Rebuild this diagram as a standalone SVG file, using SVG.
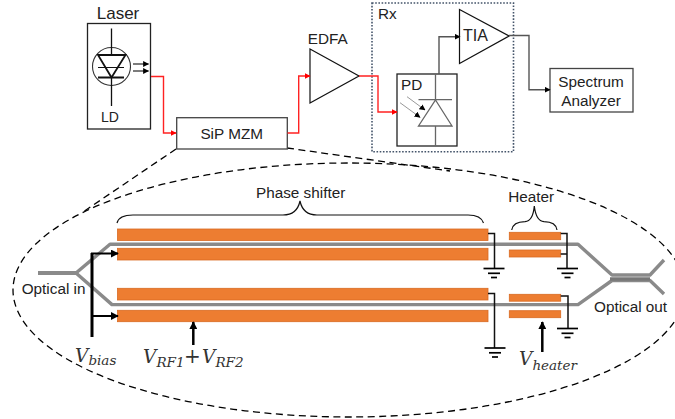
<svg xmlns="http://www.w3.org/2000/svg" width="675" height="419" viewBox="0 0 675 419">
<style>
text{font-family:"Liberation Sans",Arial,sans-serif;font-size:15.3px;fill:#222}
.m{font-family:"DejaVu Serif",serif;font-style:italic;fill:#333}
.v{font-size:18.5px}.s{font-size:13.5px}
.box{fill:#fff;stroke:#222;stroke-width:1.3}
.tri{fill:#fff;stroke:#111;stroke-width:1.2}
.red{fill:none;stroke:#f22;stroke-width:1.4}
.gr{fill:none;stroke:#555;stroke-width:1.4}
.wg{fill:none;stroke:#8a8a8a;stroke-width:3.4;stroke-linejoin:round}
.bar{fill:#ed7d31;stroke:#d96a22;stroke-width:.8}
.blk{fill:none;stroke:#111;stroke-width:1.5}
.th{fill:none;stroke:#000;stroke-width:2.5}
.dash{fill:none;stroke:#000;stroke-width:1.3;stroke-dasharray:7 4.5}
.gnd{stroke:#000;fill:none}
</style>
<defs>
<marker id="ar" viewBox="0 0 10 10" refX="9" refY="5" markerWidth="6" markerHeight="6" markerUnits="userSpaceOnUse" orient="auto"><path d="M0 0L10 5L0 10z" fill="#f00"/></marker>
<marker id="ak" viewBox="0 0 10 10" refX="9" refY="5" markerWidth="6" markerHeight="6" markerUnits="userSpaceOnUse" orient="auto"><path d="M0 0L10 5L0 10z" fill="#000"/></marker>
<marker id="ab" viewBox="0 0 10 10" refX="9" refY="5" markerWidth="8" markerHeight="8" markerUnits="userSpaceOnUse" orient="auto"><path d="M0 0L10 5L0 10z" fill="#000"/></marker>
<g id="g1" class="gnd"><path d="M-10.5 0H10.5" stroke-width="1.7"/><path d="M-6 4.8H6" stroke-width="1.7"/><path d="M-3 9H3" stroke-width="1.7"/></g>
</defs>

<g id="outline">
<ellipse class="dash" cx="349" cy="290" rx="336" ry="127"/>
<path class="dash" d="M176 149L83 212"/>
<path class="dash" d="M287 148L450 171"/>
</g>

<g id="laser">
<text x="118" y="19" text-anchor="middle" style="font-size:17px">Laser</text>
<rect class="box" x="87.5" y="23.5" width="63" height="105.5"/>
<circle cx="111.5" cy="66.5" r="19" fill="none" stroke="#333" stroke-width="1.1"/>
<path d="M111.5 28.5V54.5M111.5 77.5V106" fill="none" stroke="#111" stroke-width="1.3"/>
<path d="M98 55H125.5L111.5 77.5z" fill="none" stroke="#111" stroke-width="1.8"/>
<path d="M98 67.5H124" fill="none" stroke="#111" stroke-width="1"/>
<path d="M98 77.5H124" fill="none" stroke="#111" stroke-width="2"/>
<path d="M133 64H148.5" fill="none" stroke="#111" stroke-width="1.1" marker-end="url(#ak)"/>
<path d="M133 71H148.5" fill="none" stroke="#111" stroke-width="1.1" marker-end="url(#ak)"/>
<text x="110" y="122" text-anchor="middle" style="font-size:14px">LD</text>
</g>

<g id="mzm">
<rect class="box" style="stroke:#444" x="176.7" y="117.7" width="110.6" height="31.3"/>
<text x="231.7" y="139" text-anchor="middle">SiP MZM</text>
</g>

<g id="edfa">
<path class="tri" d="M310 49L359 76L310 103z"/>
<text x="327.7" y="44" text-anchor="middle">EDFA</text>
</g>

<g id="rx">
<rect x="372" y="3" width="141.5" height="148.7" fill="none" stroke="#44546a" stroke-width="1.6" stroke-dasharray="1.6 1.6"/>
<text x="378" y="19">Rx</text>
</g>

<g id="pd">
<rect class="box" x="397" y="74" width="60" height="72"/>
<text x="401" y="90">PD</text>
<path d="M435.5 74V100M435.5 126V146M418.5 99.7H452M435.5 100L452 126H418.5z" fill="none" stroke="#666" stroke-width="1.3"/>
<path d="M407 96.7L425 110" fill="none" stroke="#999" stroke-width="1" marker-end="url(#ak)"/>
<path d="M400 102.7L420 117.3" fill="none" stroke="#999" stroke-width="1" marker-end="url(#ak)"/>
</g>

<g id="tia">
<path class="tri" d="M459.5 9.5L509 36L459.5 63.5z"/>
<text x="463" y="41" style="font-size:16px">TIA</text>
</g>

<g id="analyzer">
<rect class="box" style="stroke:#444" x="550" y="68.5" width="83" height="43.5"/>
<text x="591" y="87" text-anchor="middle">Spectrum</text>
<text x="591" y="106" text-anchor="middle">Analyzer</text>
</g>

<g id="connectors">
<path class="red" d="M151 76.5H163.5V133H176" marker-end="url(#ar)"/>
<path class="red" d="M287.5 133H298.7V76H310" marker-end="url(#ar)"/>
<path class="red" d="M359 76H378V112H397" marker-end="url(#ar)"/>
<path class="gr" d="M439 74V36.7H460" marker-end="url(#ak)"/>
<path class="gr" d="M509 35.5H529V89.7H550" marker-end="url(#ak)"/>
</g>

<g id="phase-shifter">
<rect class="bar" x="117.5" y="229" width="370.5" height="11.5"/>
<rect class="bar" x="117.5" y="248.3" width="370.5" height="11.7"/>
<rect class="bar" x="117.5" y="288.3" width="370.5" height="11.7"/>
<rect class="bar" x="117.5" y="310.3" width="370.5" height="11.4"/>
<path d="M117 223Q119 215 133 215H283Q297 215 300 201Q303 215 317 215H468Q481 215 483.5 223" fill="none" stroke="#111" stroke-width="1.2"/>
<text x="256" y="197.5">Phase shifter</text>
</g>

<g id="heater">
<rect class="bar" x="509.3" y="232.3" width="51.4" height="7.4"/>
<rect class="bar" x="509.3" y="250" width="51.4" height="7"/>
<rect class="bar" x="509.3" y="294.3" width="51.4" height="6.9"/>
<rect class="bar" x="509.3" y="310.7" width="51.4" height="7"/>
<path d="M511.7 230Q513 222 525 221.7Q533 221 534.3 206Q536 221 544 221.7Q556 222 557 230" fill="none" stroke="#111" stroke-width="1.2"/>
<text x="508.3" y="202">Heater</text>
</g>

<g id="waveguide">
<path class="wg" style="stroke-width:4" d="M38 273H76"/>
<path class="wg" d="M76 273L110 244.3H578L612 275H650L664 260"/>
<path class="wg" d="M76 273L112 304.6H578L612 280.5H650L664 294"/>
<path class="wg" style="stroke-width:3.6;stroke:#777" d="M610 279H650"/>
<text x="21.7" y="294">Optical in</text>
<text x="594" y="312">Optical out</text>
</g>

<g id="electrical">
<path class="blk" d="M488 233.5H494.5V268.5"/>
<path class="blk" d="M488 293.5H494.5V348"/>
<path class="blk" d="M560.7 233.5H567V268.5M560.7 254H567"/>
<path class="blk" d="M560.7 296H568V328.5"/>
<use href="#g1" x="494" y="268.5"/>
<use href="#g1" x="495" y="348"/>
<use href="#g1" x="567.5" y="268.5"/>
<use href="#g1" x="567.5" y="328.5"/>
<path class="th" style="stroke-width:3" d="M92 337V253"/>
<path class="th" style="stroke-width:2" d="M91 253.5H118" marker-end="url(#ab)"/>
<path class="th" style="stroke-width:2" d="M91 316H118" marker-end="url(#ab)"/>
<path class="th" d="M193.3 345V322" marker-end="url(#ab)"/>
<path class="th" d="M542.3 352V322" marker-end="url(#ab)"/>
</g>

<g id="labels">
<text class="m v" x="75" y="361.5">V<tspan class="s" dy="3.5">bias</tspan></text>
<text class="m v" x="143" y="363">V<tspan class="s" dy="4">RF1</tspan></text>
<text class="m" x="192.5" y="363" text-anchor="middle" style="font-style:normal;font-size:20px">+</text>
<text class="m v" x="202" y="363">V<tspan class="s" dy="4">RF2</tspan></text>
<text class="m v" x="519" y="365">V<tspan class="s" dy="5">heater</tspan></text>
</g>
</svg>
